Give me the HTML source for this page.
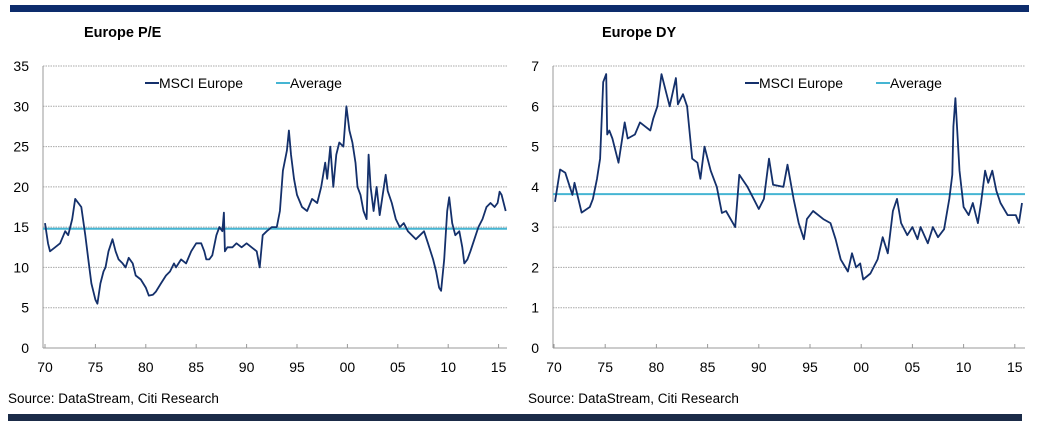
<!DOCTYPE html>
<html><head><meta charset="utf-8">
<style>
html,body{margin:0;padding:0;background:#fff;}
body{width:1046px;height:421px;position:relative;overflow:hidden;font-family:"Liberation Sans",Arial,sans-serif;}
svg text{font-family:"Liberation Sans",Arial,sans-serif;}
</style></head>
<body>
<svg id="root" width="1046" height="421" viewBox="0 0 1046 421">
  <rect x="10" y="5" width="1019" height="7" fill="#0d2c6c"/>
  <rect x="8" y="414" width="1014" height="7" fill="#1b2b48"/>
  <text x="84" y="37" font-size="14.5" font-weight="bold" fill="#000">Europe P/E</text>
  <text x="602" y="37" font-size="14.5" font-weight="bold" fill="#000">Europe DY</text>
  <text x="8" y="403" font-size="13.5" fill="#000">Source: DataStream, Citi Research</text>
  <text x="528" y="403" font-size="13.5" fill="#000">Source: DataStream, Citi Research</text>
  <g id="pe"></g>
  <g id="dy"></g>
</svg>
<script>
// ---- P/E data ----
const peYears = [1970.0,1970.3,1970.5,1971,1971.5,1972,1972.3,1972.7,1973,1973.3,1973.6,1974,1974.3,1974.6,1975,1975.2,1975.5,1975.8,1976,1976.3,1976.7,1977,1977.3,1977.7,1978,1978.3,1978.7,1979,1979.5,1980,1980.3,1980.7,1981,1981.5,1982,1982.4,1982.8,1983,1983.5,1984,1984.5,1985,1985.5,1985.8,1986,1986.3,1986.6,1987,1987.3,1987.6,1987.75,1987.85,1988.1,1988.6,1989,1989.5,1990,1990.5,1991,1991.3,1991.6,1992,1992.5,1993,1993.3,1993.6,1994,1994.2,1994.4,1994.7,1995,1995.5,1996,1996.5,1997,1997.4,1997.8,1998,1998.3,1998.6,1998.9,1999.2,1999.6,1999.9,2000.2,2000.5,2000.8,2001,2001.3,2001.6,2001.9,2002.1,2002.3,2002.6,2002.9,2003.2,2003.5,2003.8,2004,2004.4,2004.8,2005.2,2005.6,2006,2006.4,2006.8,2007.2,2007.6,2008,2008.5,2008.8,2009.1,2009.3,2009.6,2009.9,2010.1,2010.4,2010.7,2011.1,2011.4,2011.6,2011.9,2012.2,2012.6,2013,2013.4,2013.8,2014.2,2014.6,2014.9,2015.1,2015.3,2015.7];
const peValues = [15.5,13,12,12.5,13,14.5,14,16,18.5,18,17.5,14,11,8,6,5.5,8,9.5,10,12,13.5,12,11,10.5,10,11.2,10.5,9,8.5,7.5,6.5,6.6,7,8,9,9.5,10.5,10,11,10.5,12,13,13,12,11,11,11.5,14,15,14.5,16.8,12,12.5,12.5,13,12.5,13,12.5,12,10,14,14.5,15,15,17,22,24.5,27,24,21,19,17.5,17,18.5,18,20,23,21,25,20,24,25.5,25,30,27,25.5,23,20,19,17,16,24,20,17,20,16.5,19,21.5,19.5,18,16,15,15.5,14.5,14,13.5,14,14.5,13,11,9.5,7.5,7.1,11,17,18.7,15.5,14,14.5,12.5,10.5,11,12,13.5,15,16,17.5,18,17.5,18,19.4,19,17];
const peAverage = 14.8;
const peTicksY = [0,5,10,15,20,25,30,35];
const peTicksX = ["70","75","80","85","90","95","00","05","10","15"];

// ---- DY data ----
const dyYears = [1970.1,1970.6,1971.1,1971.8,1972,1972.7,1973.5,1973.8,1974.2,1974.5,1974.8,1975.1,1975.2,1975.4,1975.7,1976.3,1976.9,1977.2,1977.9,1978.4,1979.4,1979.7,1980.1,1980.5,1981.0,1981.3,1981.9,1982.1,1982.6,1983,1983.5,1984,1984.3,1984.7,1985.3,1985.9,1986.4,1986.8,1987.7,1988.1,1988.9,1989.5,1990,1990.5,1991,1991.4,1992.4,1992.8,1993.4,1993.9,1994.4,1994.7,1995.3,1996.3,1997,1997.5,1998,1998.7,1999.1,1999.5,1999.9,2000.2,2000.9,2001.6,2002.1,2002.6,2003.1,2003.5,2003.9,2004.5,2005,2005.5,2005.8,2006.5,2007,2007.5,2008.1,2008.6,2008.9,2009.0,2009.2,2009.6,2010,2010.5,2010.9,2011.4,2011.7,2012.1,2012.4,2012.8,2013.2,2013.6,2014.3,2015.1,2015.4,2015.7];
const dyValues = [3.63,4.43,4.35,3.8,4.1,3.36,3.5,3.7,4.2,4.7,6.6,6.8,5.3,5.4,5.2,4.6,5.6,5.2,5.3,5.6,5.4,5.7,6.0,6.8,6.3,6.0,6.7,6.05,6.3,6.0,4.7,4.6,4.2,5.0,4.4,4.0,3.35,3.4,3.0,4.3,4.0,3.7,3.45,3.7,4.7,4.05,4.0,4.55,3.7,3.1,2.7,3.2,3.4,3.2,3.1,2.7,2.2,1.9,2.35,2.0,2.1,1.7,1.85,2.2,2.75,2.35,3.4,3.7,3.1,2.8,3.0,2.7,3.0,2.6,3.0,2.75,2.95,3.7,4.3,5.5,6.2,4.4,3.5,3.3,3.6,3.1,3.6,4.4,4.1,4.4,3.9,3.6,3.3,3.3,3.1,3.6];
const dyAverage = 3.82;
const dyTicksY = [0,1,2,3,4,5,6,7];
const dyTicksX = ["70","75","80","85","90","95","00","05","10","15"];

const NS = "http://www.w3.org/2000/svg";
function mk(parent, tag, attrs){
  const el = document.createElementNS(NS, tag);
  for (const k in attrs) el.setAttribute(k, attrs[k]);
  parent.appendChild(el);
  return el;
}

function drawChart(g, cfg){
  const xs = y => cfg.x0 + (y - 1970) * cfg.pxPerYear;
  const ys = v => cfg.yBottom - (v - cfg.yMin) / (cfg.yMax - cfg.yMin) * (cfg.yBottom - cfg.yTop);
  // gridlines + y labels
  cfg.ticksY.forEach(t => {
    if (t > cfg.yMin) {
      const gl = mk(g, "line", {x1: cfg.left, x2: cfg.right, y1: ys(t), y2: ys(t), stroke: "#a8a8a8", "stroke-width": 1, "stroke-dasharray": "1.5,1"});
      
      
    }
    const tl = mk(g, "text", {x: cfg.left - 14, y: ys(t) + 5, "text-anchor": "end", "font-size": 14, fill: "#000"});
    tl.textContent = t;
    
    
  });
  // axes
  const ya = mk(g, "line", {x1: cfg.left, x2: cfg.left, y1: cfg.yTop, y2: cfg.yBottom, stroke: "#999", "stroke-width": 1});
  
  
  const xa = mk(g, "line", {x1: cfg.left, x2: cfg.right, y1: cfg.yBottom, y2: cfg.yBottom, stroke: "#999", "stroke-width": 1});
  
  
  cfg.ticksX.forEach((lab, i) => {
    const yr = 1970 + i * 5;
    const tk = mk(g, "line", {x1: xs(yr), x2: xs(yr), y1: cfg.yBottom - 4, y2: cfg.yBottom, stroke: "#999", "stroke-width": 1});
    
    
    const tl = mk(g, "text", {x: xs(yr), y: cfg.yBottom + 24, "text-anchor": "middle", "font-size": 14, fill: "#000"});
    tl.textContent = lab;
    
    
  });
  // average
  const av = mk(g, "line", {x1: cfg.left, x2: cfg.right, y1: ys(cfg.avg), y2: ys(cfg.avg), stroke: "#45b5d3", "stroke-width": 2});
  
  
  // series
  const pts = cfg.years.map((y, i) => xs(y).toFixed(1) + "," + ys(cfg.values[i]).toFixed(1)).join(" ");
  const pl = mk(g, "polyline", {points: pts, fill: "none", stroke: "#14306b", "stroke-width": 1.8, "stroke-linejoin": "round"});
  
  
  // legend
  const l1 = mk(g, "line", {x1: cfg.legX, x2: cfg.legX + 14, y1: 83, y2: 83, stroke: "#14306b", "stroke-width": 2});
  
  
  const t1 = mk(g, "text", {x: cfg.legX + 14, y: 88, "font-size": 14, fill: "#000"});
  t1.textContent = "MSCI Europe";
  
  
  const l2 = mk(g, "line", {x1: cfg.legX + 131, x2: cfg.legX + 145, y1: 83, y2: 83, stroke: "#45b5d3", "stroke-width": 2});
  
  
  const t2 = mk(g, "text", {x: cfg.legX + 145, y: 88, "font-size": 14, fill: "#000"});
  t2.textContent = "Average";
  
  
}

drawChart(document.getElementById("pe"), {
  x0: 45, pxPerYear: 10.08, left: 43, right: 507, yTop: 66, yBottom: 348,
  yMin: 0, yMax: 35, ticksY: peTicksY, ticksX: peTicksX,
  years: peYears, values: peValues, avg: peAverage, legX: 145
});
drawChart(document.getElementById("dy"), {
  x0: 554, pxPerYear: 10.24, left: 553, right: 1025, yTop: 66, yBottom: 348,
  yMin: 0, yMax: 7, ticksY: dyTicksY, ticksX: dyTicksX,
  years: dyYears, values: dyValues, avg: dyAverage, legX: 745
});
</script>
</body></html>
